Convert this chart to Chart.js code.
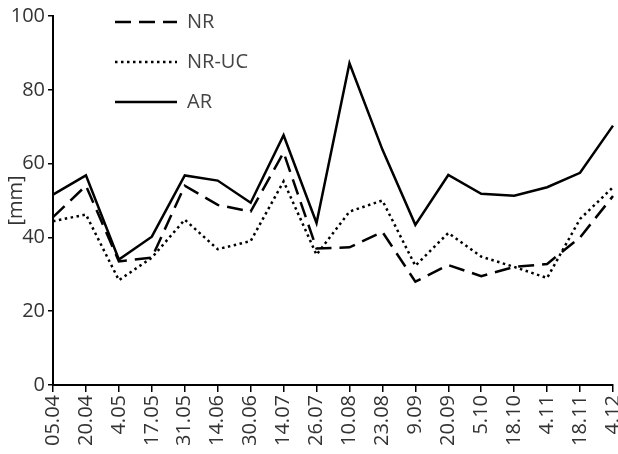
<!DOCTYPE html>
<html>
<head>
<meta charset="utf-8">
<script src="https://cdn.jsdelivr.net/npm/chart.js@4/dist/chart.umd.min.js"></script>
<style>
  html, body { margin: 0; padding: 0; background: #fff; }
  #wrap { width: 618px; height: 454px; }
</style>
</head>
<body>
<div id="wrap"><canvas id="chart"></canvas></div>
<script>
var dates = ["05.04", "20.04", "4.05", "17.05", "31.05", "14.06", "30.06", "14.07", "26.07",
    "10.08", "23.08", "9.09", "20.09", "5.10", "18.10", "4.11", "18.11", "4.12"];

var nrValues = [45.5, 54, 33.5, 34.5, 54, 48.8, 47, 63, 37, 37.3, 41.5, 28, 32.5, 29.5, 32, 32.8, 40, 51.2];
var nrUcValues = [44.4, 46.2, 28.4, 34.5, 44.8, 36.8, 39, 55.2, 35.3, 47, 50, 32.3, 41.2, 34.8, 32, 29, 45, 53.6];
var arValues = [51.6, 56.8, 34, 40.2, 56.8, 55.4, 49.4, 67.7, 43.9, 87.2, 63.8, 43.4, 56.9, 51.8, 51.3, 53.6, 57.5, 70.3];

var yTicks = { min: 0, max: 100, step: 20 };

Chart.defaults.font.family = "'Open Sans', sans-serif";
Chart.defaults.font.size = 20;
Chart.defaults.color = "#333";

// legend sits inside the plot, shifted right of the axis
var legendShift = {
    id: 'legendShift',
    afterLayout: function(chart) {
        chart.legend.left = chart.chartArea.left + 42;
        chart.legend.top = chart.chartArea.top - 24;
    }
};

function lineSet(label, data, dash) {
    return {
        label: label,
        data: data,
        borderColor: "#000",
        backgroundColor: "#000",
        borderWidth: 2.5,
        borderDash: dash,
        borderCapStyle: 'butt',
        pointRadius: 0,
        tension: 0,
        fill: false
    };
}

var ctx = document.getElementById("chart").getContext("2d");
new Chart(ctx, {
    type: 'line',
    data: {
        labels: dates,
        datasets: [
            lineSet("NR", nrValues, [16, 8]),
            lineSet("NR-UC", nrUcValues, [2.5, 3.5]),
            lineSet("AR", arValues, [])
        ]
    },
    options: {
        responsive: true,
        maintainAspectRatio: false,
        animation: false,
        layout: { padding: { top: 16, right: 5, left: 0, bottom: 0 } },
        plugins: {
            tooltip: { enabled: false },
            legend: {
                position: 'chartArea',
                align: 'start',
                labels: {
                    usePointStyle: true,
                    pointStyle: 'line',
                    pointStyleWidth: 62,
                    padding: 20,
                    color: "#444",
                    font: { size: 20 },
                    generateLabels: function(chart) {
                        var items = Chart.defaults.plugins.legend.labels.generateLabels(chart);
                        items.forEach(function(item) {
                            var ds = chart.data.datasets[item.datasetIndex];
                            item.lineDash = ds.borderDash;
                            item.lineWidth = ds.borderWidth;
                            item.strokeStyle = ds.borderColor;
                            item.lineCap = 'butt';
                        });
                        return items;
                    }
                }
            }
        },
        scales: {
            x: {
                offset: false,
                border: { color: "#000", width: 2 },
                grid: { drawOnChartArea: false, drawTicks: true, tickLength: 7, color: "#000", lineWidth: 1.5 },
                ticks: { minRotation: 90, maxRotation: 90, padding: 3, autoSkip: false, color: "#333" },
                afterFit: function(scale) {
                    scale.height = 69;
                    scale.paddingRight = 5;
                }
            },
            y: {
                min: yTicks.min,
                max: yTicks.max,
                border: { color: "#000", width: 2 },
                grid: { drawOnChartArea: false, drawTicks: true, tickLength: 5, color: "#000", lineWidth: 1.5 },
                ticks: { stepSize: yTicks.step, padding: 3, color: "#333" },
                title: { display: true, text: "[mm]", color: "#333", font: { size: 20 }, padding: { top: 4, bottom: 2 } },
                afterFit: function(scale) {
                    scale.width = 53;
                }
            }
        }
    },
    plugins: [legendShift]
});
</script>
</body>
</html>
